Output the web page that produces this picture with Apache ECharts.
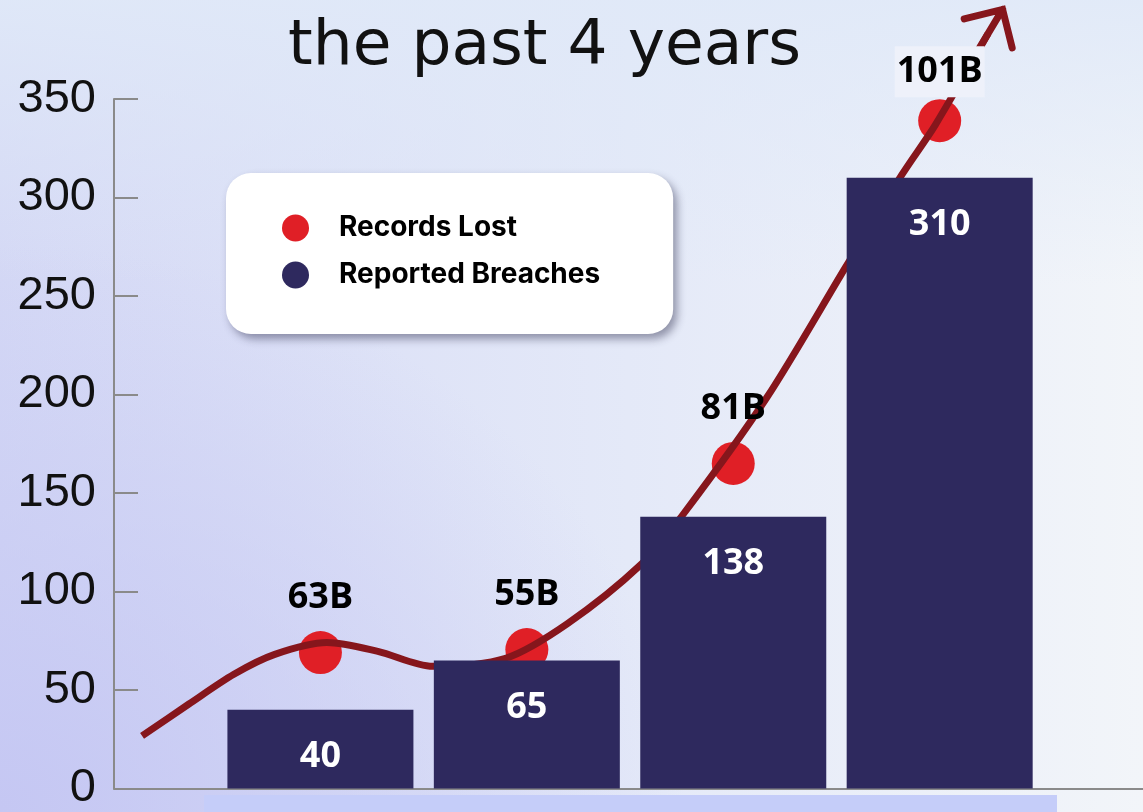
<!DOCTYPE html>
<html>
<head>
<meta charset="utf-8">
<script src="https://cdn.jsdelivr.net/npm/echarts@6/dist/echarts.min.js"></script>
<style>
  html, body { margin: 0; padding: 0; }
  body {
    width: 1143px; height: 812px; overflow: hidden;
    background:
      radial-gradient(ellipse 60% 70% at 0% 100%, rgba(196,198,243,0.95), rgba(196,198,243,0) 100%),
      linear-gradient(to bottom, rgba(224,233,248,0.9) 0%, rgba(224,233,248,0) 35%),
      linear-gradient(to right, #d4d8f5 0%, #e4e9f8 55%, #f2f5f9 100%);
  }
  #chart { width: 1143px; height: 812px; }
</style>
</head>
<body>
<div id="chart"></div>
<script>
// positions of the four years on the x scale
var periods = [1, 2, 3, 4];
// bars: reported breaches
var breaches = [40, 65, 138, 310];
// red dots: records lost (height on the chart) and their captions
var recordsLost = [69, 70.5, 165, 339];
var recordsText = ['63B', '55B', '81B', '101B'];
// decorative trend curve [x, y]
var trend = [
  [0.136, 26.7], [0.363, 42.9], [0.581, 58], [0.779, 68.1], [1.031, 74.1],
  [1.278, 69.6], [1.544, 62], [1.897, 66.1], [2.197, 83.7], [2.551, 113.5],
  [2.754, 138.7], [3.161, 198.2], [3.548, 265.3], [3.814, 311.1], [3.979, 336.9],
  [4.235, 383.3]
];
var yTicks = [0, 50, 100, 150, 200, 250, 300, 350];

var red = '#e01f26';
var navy = '#2e295e';
var wine = '#86161c';
var labelFont = '"Open Sans", "DejaVu Sans", sans-serif';

var chart = echarts.init(document.getElementById('chart'));

var trendData = trend.map(function (p, i) {
  if (i < trend.length - 1) return p;
  // arrow head on the last point
  return {
    value: p,
    symbol: 'path://M0,20 L20,0 L40,20 M20,0 L20,40',
    symbolSize: 56,
    symbolRotate: -31,
    itemStyle: { color: 'none', borderColor: wine, borderWidth: 7, borderCap: 'round' }
  };
});

var option = {
  backgroundColor: 'transparent',
  animation: false,
  title: {
    text: 'the past 4 years',
    left: 283,
    top: 11,
    textStyle: { fontFamily: '"DejaVu Sans", sans-serif', fontWeight: 400, fontSize: 63, color: '#111' }
  },
  legend: {
    data: ['Records Lost', 'Reported Breaches'],
    orient: 'vertical',
    left: 226,
    top: 173,
    icon: 'circle',
    itemWidth: 27,
    itemHeight: 27,
    itemGap: 19,
    padding: [41, 73, 45, 56],
    backgroundColor: '#ffffff',
    borderRadius: 25,
    shadowColor: 'rgba(40,40,70,0.45)',
    shadowBlur: 8,
    shadowOffsetX: 4,
    shadowOffsetY: 5,
    textStyle: {
      fontFamily: 'Inter, sans-serif', fontWeight: 700, fontSize: 28,
      color: '#000', padding: [0, 0, 0, 25]
    }
  },
  grid: { left: 114, right: 0, top: 99, bottom: 19 },
  xAxis: {
    type: 'value', min: 0, max: 4.985,
    axisLine: { show: true, lineStyle: { color: '#8a8a8a', width: 2 } },
    axisTick: { show: false },
    axisLabel: { show: false },
    splitLine: { show: false }
  },
  yAxis: {
    type: 'value', min: 0, max: 350, interval: 50,
    axisLine: { show: true, lineStyle: { color: '#8a8a8a', width: 2 } },
    axisTick: { show: true, inside: true, length: 24, lineStyle: { color: '#8a8a8a', width: 2 } },
    axisLabel: {
      margin: 18, fontSize: 47, color: '#111',
      fontFamily: '"Liberation Sans", Arial, sans-serif',
      formatter: function (v) { return yTicks.indexOf(v) >= 0 ? String(v) : ''; }
    },
    splitLine: { show: false }
  },
  graphic: [{
    type: 'rect', left: 204, top: 795, z: -1,
    shape: { width: 853, height: 17 },
    style: { fill: '#c5cdf9' }
  }],
  series: [
    {
      name: 'Records Lost',
      type: 'scatter',
      z: 2,
      symbolSize: 43,
      itemStyle: { color: red, opacity: 1 },
      data: periods.map(function (x, i) { return [x, recordsLost[i]]; })
    },
    {
      name: 'Trend',
      type: 'line',
      z: 3,
      smooth: 0.3,
      clip: false,
      symbol: 'none',
      showSymbol: true,
      lineStyle: { color: wine, width: 7 },
      data: trendData
    },
    {
      name: 'Reported Breaches',
      type: 'bar',
      z: 4,
      barWidth: 186,
      itemStyle: { color: navy },
      label: {
        show: true, position: 'insideTop', distance: 29,
        color: '#fff', fontFamily: labelFont, fontWeight: 700, fontSize: 36
      },
      data: periods.map(function (x, i) { return [x, breaches[i]]; })
    },
    {
      name: 'Records Lost captions',
      type: 'scatter',
      z: 5,
      symbolSize: 0,
      silent: true,
      itemStyle: { opacity: 1 },
      label: {
        show: true, position: 'inside', offset: [0, -55],
        color: '#000', fontFamily: labelFont, fontWeight: 700, fontSize: 36,
        formatter: function (p) { return recordsText[p.dataIndex]; }
      },
      data: periods.map(function (x, i) {
        var item = { value: [x, recordsLost[i]] };
        if (i === periods.length - 1) {
          // the last caption sits on a plate that hides the curve behind it
          item.label = { backgroundColor: '#eef1fa', padding: [9, 2, 6, 2], offset: [0, -49] };
        }
        return item;
      })
    }
  ]
};

chart.setOption(option);
</script>
</body>
</html>
